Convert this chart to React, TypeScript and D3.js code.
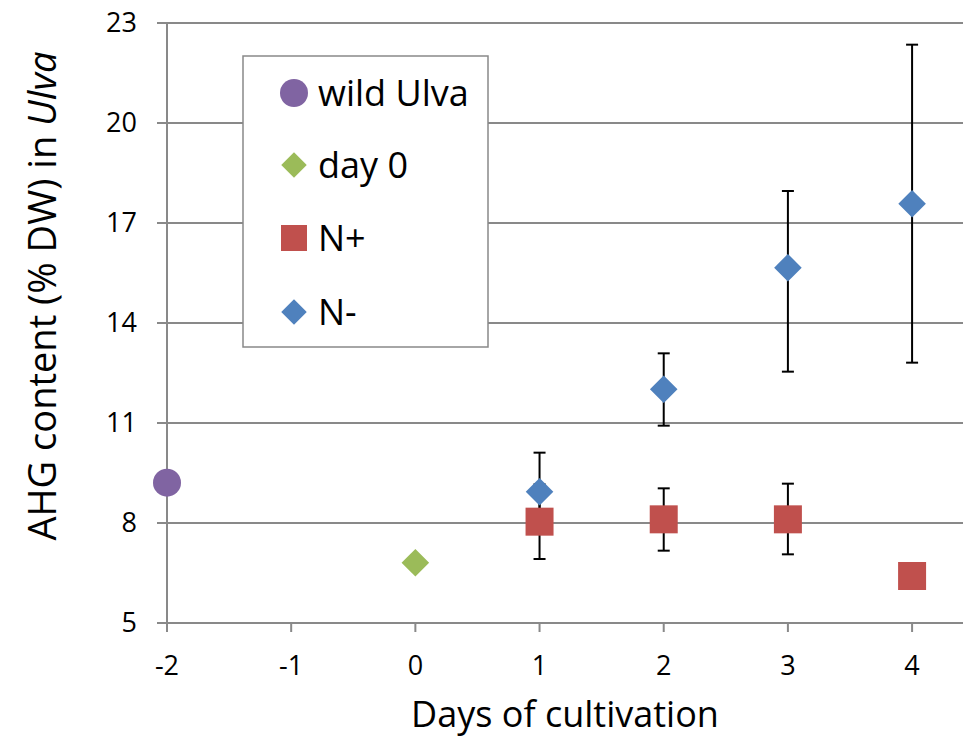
import React, { useRef, useEffect } from 'react';
import * as d3 from 'd3';

// values
const yTicks = [5, 8, 11, 14, 17, 20, 23];
const xTicks = [-2, -1, 0, 1, 2, 3, 4];

const wildDays = [-2];
const wildValues = [9.21];

const day0Days = [0];
const day0Values = [6.81];

const nPlusDays = [1, 2, 3, 4];
const nPlusValues = [8.04, 8.11, 8.11, 6.41];
const nPlusUpper = [9.16, 9.04, 9.18, null];
const nPlusLower = [6.92, 7.17, 7.06, null];

const nMinusDays = [1, 2, 3, 4];
const nMinusValues = [8.94, 12.01, 15.66, 17.58];
const nMinusUpper = [10.11, 13.09, 17.96, 22.35];
const nMinusLower = [7.77, 10.92, 12.54, 12.81];

const legendLabels = ['wild Ulva', 'day 0', 'N+', 'N-'];

const PURPLE = '#8064A2';
const GREEN = '#9BBB59';
const RED = '#C0504D';
const BLUE = '#4F81BD';
const GRID = '#898989';
const FONT = '"Open Sans", Lato, sans-serif';

const W = 963;
const H = 737;

function App() {
  const svgRef = useRef<SVGSVGElement>(null);

  useEffect(() => {
    const svg = d3.select(svgRef.current);
    svg.selectAll('*').remove();

    const x = d3.scaleLinear().domain([-2, 4.41]).range([167, 963]);
    const y = d3.scaleLinear().domain([5, 23]).range([623, 23]);

    const circle = d3.symbol().type(d3.symbolCircle).size(Math.PI * 14 * 14);
    const diamond = d3.symbol().type(d3.symbolSquare).size(19.5 * 19.5);
    const square = d3.symbol().type(d3.symbolSquare).size(28 * 28);

    // gridlines
    svg.append('g')
      .selectAll('line')
      .data(yTicks)
      .join('line')
      .attr('x1', 157)
      .attr('x2', W)
      .attr('y1', d => y(d))
      .attr('y2', d => y(d))
      .attr('stroke', GRID)
      .attr('stroke-width', 2);

    // y axis line + x ticks
    svg.append('line')
      .attr('x1', x(-2)).attr('x2', x(-2))
      .attr('y1', y(23)).attr('y2', y(5) + 9)
      .attr('stroke', GRID).attr('stroke-width', 2);

    svg.append('g')
      .selectAll('line')
      .data(xTicks.slice(1))
      .join('line')
      .attr('x1', d => x(d)).attr('x2', d => x(d))
      .attr('y1', y(5)).attr('y2', y(5) + 9)
      .attr('stroke', GRID).attr('stroke-width', 2);

    // tick labels
    svg.append('g')
      .selectAll('text')
      .data(yTicks)
      .join('text')
      .attr('x', 137)
      .attr('y', d => y(d))
      .attr('dy', '0.35em')
      .attr('text-anchor', 'end')
      .style('font-family', FONT)
      .style('font-size', '27px')
      .text(d => d);

    svg.append('g')
      .selectAll('text')
      .data(xTicks)
      .join('text')
      .attr('x', d => x(d))
      .attr('y', 675)
      .attr('text-anchor', 'middle')
      .style('font-family', FONT)
      .style('font-size', '27px')
      .text(d => d);

    // axis titles
    svg.append('text')
      .attr('x', 565)
      .attr('y', 727)
      .attr('text-anchor', 'middle')
      .style('font-family', FONT)
      .style('font-size', '36px')
      .text('Days of cultivation');

    const yTitle = svg.append('text')
      .attr('transform', 'translate(56,296) rotate(-90)')
      .attr('text-anchor', 'middle')
      .style('font-family', FONT)
      .style('font-size', '38px');
    yTitle.append('tspan').text('AHG content (% DW) in ');
    yTitle.append('tspan').style('font-style', 'italic').text('Ulva');

    // error bars
    const bars = [
      ...nPlusDays.map((d, i) => ({ d, hi: nPlusUpper[i], lo: nPlusLower[i] })),
      ...nMinusDays.map((d, i) => ({ d, hi: nMinusUpper[i], lo: nMinusLower[i] })),
    ].filter(b => b.hi != null && b.lo != null);

    const eb = svg.append('g').attr('stroke', '#000').attr('stroke-width', 2);
    bars.forEach(b => {
      eb.append('line')
        .attr('x1', x(b.d)).attr('x2', x(b.d))
        .attr('y1', y(b.hi as number)).attr('y2', y(b.lo as number));
      [b.hi, b.lo].forEach(v => {
        eb.append('line')
          .attr('x1', x(b.d) - 6).attr('x2', x(b.d) + 6)
          .attr('y1', y(v as number)).attr('y2', y(v as number));
      });
    });

    // markers
    svg.append('g')
      .selectAll('path')
      .data(wildDays.map((d, i) => [d, wildValues[i]]))
      .join('path')
      .attr('d', circle)
      .attr('transform', d => `translate(${x(d[0])},${y(d[1])})`)
      .attr('fill', PURPLE);

    svg.append('g')
      .selectAll('path')
      .data(day0Days.map((d, i) => [d, day0Values[i]]))
      .join('path')
      .attr('d', diamond)
      .attr('transform', d => `translate(${x(d[0])},${y(d[1])}) rotate(45)`)
      .attr('fill', GREEN);

    svg.append('g')
      .selectAll('path')
      .data(nPlusDays.map((d, i) => [d, nPlusValues[i]]))
      .join('path')
      .attr('d', square)
      .attr('transform', d => `translate(${x(d[0])},${y(d[1])})`)
      .attr('fill', RED);

    svg.append('g')
      .selectAll('path')
      .data(nMinusDays.map((d, i) => [d, nMinusValues[i]]))
      .join('path')
      .attr('d', diamond)
      .attr('transform', d => `translate(${x(d[0])},${y(d[1])}) rotate(45)`)
      .attr('fill', BLUE);

    // legend
    const legend = svg.append('g').attr('transform', 'translate(243,56)');
    legend.append('rect')
      .attr('width', 245)
      .attr('height', 291)
      .attr('fill', '#fff')
      .attr('stroke', GRID)
      .attr('stroke-width', 1.5);

    const legendSymbols = [
      { sym: circle, color: PURPLE, rot: 0 },
      { sym: d3.symbol().type(d3.symbolSquare).size(18 * 18), color: GREEN, rot: 45 },
      { sym: d3.symbol().type(d3.symbolSquare).size(26 * 26), color: RED, rot: 0 },
      { sym: d3.symbol().type(d3.symbolSquare).size(18 * 18), color: BLUE, rot: 45 },
    ];
    const rowY = [37, 109, 182, 256];
    legendLabels.forEach((label, i) => {
      legend.append('path')
        .attr('d', legendSymbols[i].sym)
        .attr('transform', `translate(51,${rowY[i]}) rotate(${legendSymbols[i].rot})`)
        .attr('fill', legendSymbols[i].color);
      legend.append('text')
        .attr('x', 75)
        .attr('y', rowY[i])
        .attr('dy', '0.35em')
        .style('font-family', FONT)
        .style('font-size', '36px')
        .text(label);
    });
  }, []);

  return (
    <svg
      ref={svgRef}
      width={W}
      height={H}
      style={{ position: 'absolute', left: 0, top: 0, background: '#fff' }}
    />
  );
}

export default App;
